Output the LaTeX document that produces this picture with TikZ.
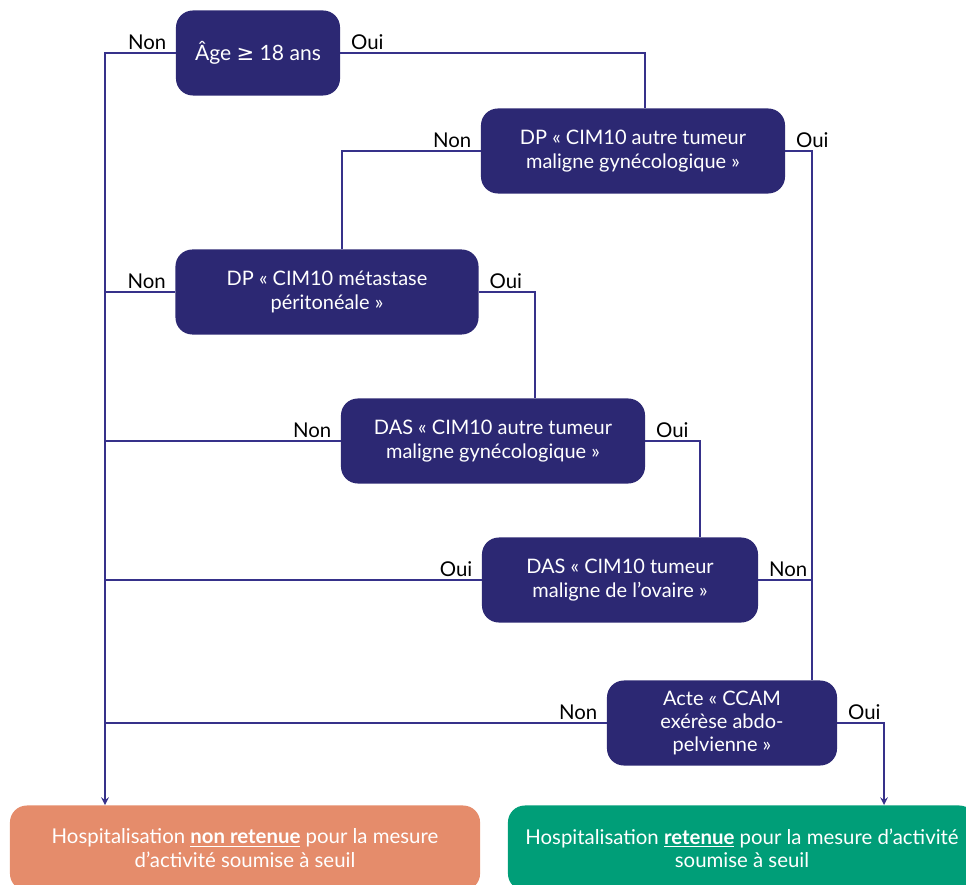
\documentclass[tikz,border=0pt]{standalone}
\usepackage{fontspec}
\setmainfont{Lato}
\newfontfamily\symfont{DejaVu Sans}
\usetikzlibrary{positioning}
\definecolor{navy}{HTML}{2C2873}
\definecolor{wirecol}{HTML}{36318A}
\definecolor{salmon}{HTML}{E58C6B}
\definecolor{teal}{HTML}{009E78}

\tikzset{
	test/.style={draw=none, fill=navy, text=white, rounded corners=12pt, align=center,
		minimum height=2.125cm, inner sep=2pt, font=\fontsize{14.2}{16.6}\selectfont},
	outcome/.style={draw=none, rounded corners=12pt, text=white, align=center,
		minimum height=2.125cm, font=\fontsize{14.5}{16.6}\selectfont},
	lbl/.style={inner sep=1.5pt, font=\fontsize{14.5}{16}\selectfont},
	wire/.style={draw=wirecol, line width=1.4pt},
}

\begin{document}
\begin{tikzpicture}[x=0.025cm, y=-0.025cm, >=stealth]

	\useasboundingbox (0,0) rectangle (966,885);
	\clip (0,0) rectangle (966,885);

%decision boxes
	\node [test, minimum width=4.1cm, font=\fontsize{15}{17}\selectfont] (age) at (258,53){Âge {\symfont≥} 18 ans};
	\node [test, minimum width=7.6cm] (dpa) at (633,151){DP « CIM10 autre tumeur\\maligne gynécologique »};
	\node [test, minimum width=7.575cm] (dpm) at (327,292){DP « CIM10 métastase\\péritonéale »};
	\node [test, minimum width=7.6cm] (dasa) at (493,441){DAS « CIM10 autre tumeur\\maligne gynécologique »};
	\node [test, minimum width=6.9cm] (daso) at (620,580){DAS « CIM10 tumeur\\maligne de l’ovaire »};
	\node [test, minimum width=5.75cm] (acte) at (722,723){Acte « CCAM\\exérèse abdo-\\pelvienne »};

%results
	\node [outcome, fill=salmon, minimum width=11.75cm] (no) at (245,848){Hospitalisation \underline{\textbf{non retenue}} pour la mesure\\d’activité soumise à seuil};
	\node [outcome, fill=teal, minimum width=11.7cm] (yes) at (742,848){Hospitalisation \underline{\textbf{retenue}} pour la mesure d’activité\\soumise à seuil};

%aux points
	\coordinate [] (busL) at (105,53){};
	\coordinate [] (busR) at (812,153){};
	\coordinate [] (noIn) at (105,805){};
	\coordinate [] (yesIn) at (884,805){};

%connectors
	\draw [wire, ->] (age.west) -- (busL) -- (noIn);
	\draw [wire] (age.east) -| (dpa.north -| 645,0);
	\draw [wire] (dpa.west) -| (dpm.north -| 342,0);
	\draw [wire] (dpa.east) -| (busR) -- (acte.north -| busR);
	\draw [wire] (dpm.west) -- (dpm.west -| busL);
	\draw [wire] (dpm.east) -| (dasa.north -| 535,0);
	\draw [wire] (dasa.west) -- (dasa.west -| busL);
	\draw [wire] (dasa.east) -| (daso.north -| 700,0);
	\draw [wire] (daso.west) -- (daso.west -| busL);
	\draw [wire] (daso.east) -- (daso.east -| busR);
	\draw [wire] (acte.west) -- (acte.west -| busL);
	\draw [wire, ->] (acte.east) -| (yesIn);

%labels
	\node [lbl, anchor=south east] (ageN) at ([xshift=-5pt, yshift=1pt]age.west){Non};
	\node [lbl, anchor=south west] (ageO) at ([xshift=6pt, yshift=1pt]age.east){Oui};
	\node [lbl, anchor=south east] (dpaN) at ([xshift=-5pt, yshift=1pt]dpa.west){Non};
	\node [lbl, anchor=south west] (dpaO) at ([xshift=6pt, yshift=1pt]dpa.east){Oui};
	\node [lbl, anchor=south east] (dpmN) at ([xshift=-5pt, yshift=1pt]dpm.west){Non};
	\node [lbl, anchor=south west] (dpmO) at ([xshift=6pt, yshift=1pt]dpm.east){Oui};
	\node [lbl, anchor=south east] (dasaN) at ([xshift=-5pt, yshift=1pt]dasa.west){Non};
	\node [lbl, anchor=south west] (dasaO) at ([xshift=6pt, yshift=1pt]dasa.east){Oui};
	\node [lbl, anchor=south east] (dasoO) at ([xshift=-5pt, yshift=1pt]daso.west){Oui};
	\node [lbl, anchor=south west] (dasoN) at ([xshift=6pt, yshift=1pt]daso.east){Non};
	\node [lbl, anchor=south east] (acteN) at ([xshift=-5pt, yshift=1pt]acte.west){Non};
	\node [lbl, anchor=south west] (acteO) at ([xshift=6pt, yshift=1pt]acte.east){Oui};

\end{tikzpicture}
\end{document}
